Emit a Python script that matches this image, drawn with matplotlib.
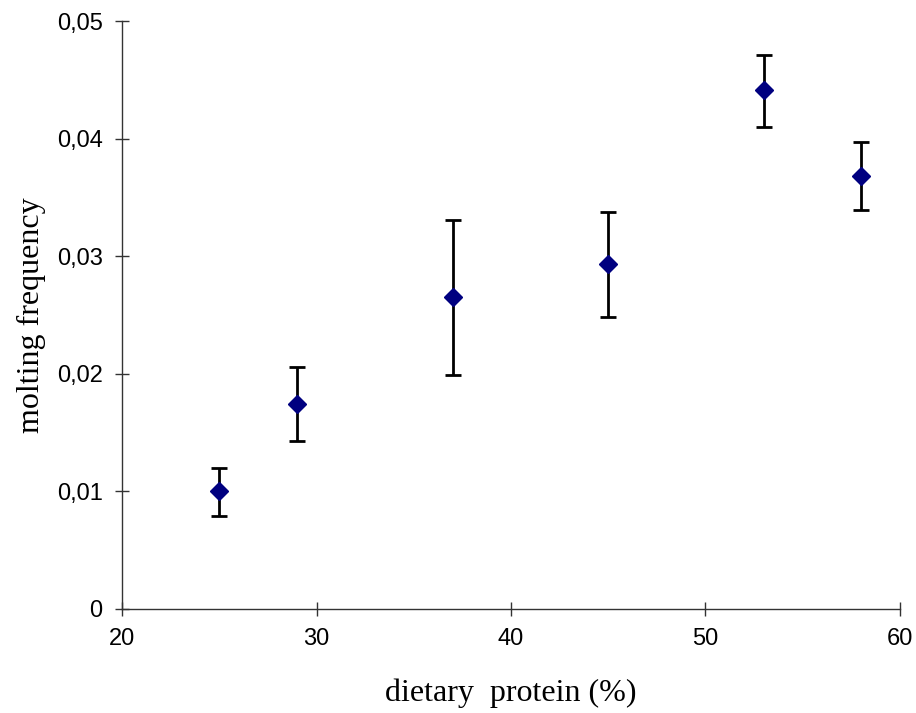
import matplotlib.pyplot as plt
import matplotlib.ticker as mticker
import numpy as np

# data
protein = [25, 29, 37, 45, 53, 58]
molting = [0.0100, 0.0174, 0.0265, 0.0293, 0.0441, 0.0368]
err_low = [0.0021, 0.0031, 0.0066, 0.0045, 0.0031, 0.0029]
err_high = [0.0020, 0.0032, 0.0066, 0.0045, 0.0030, 0.0029]

fig = plt.figure(figsize=(9.16, 7.13), dpi=100)
ax = fig.add_axes([0.1332, 0.1459, 0.8493, 0.8246])

ax.errorbar(protein, molting, yerr=[err_low, err_high], fmt='D', color='#000080',
            markersize=9, ecolor='black', elinewidth=2, capsize=6, capthick=2)

ax.set_xlim(20, 60)
ax.set_ylim(0, 0.05)
ax.set_xticks([20, 30, 40, 50, 60])
ax.set_yticks([0, 0.01, 0.02, 0.03, 0.04, 0.05])
ax.yaxis.set_major_formatter(mticker.FuncFormatter(
    lambda v, p: '0' if v == 0 else f'{v:.2f}'.replace('.', ',')))

for s in ['top', 'right']:
    ax.spines[s].set_visible(False)
for s in ['left', 'bottom']:
    ax.spines[s].set_color('#333333')
    ax.spines[s].set_linewidth(1)

ax.tick_params(direction='inout', length=10, width=1, color='#333333',
               labelsize=17, pad=9)
for lab in ax.get_xticklabels() + ax.get_yticklabels():
    lab.set_fontfamily('Liberation Sans')

ax.set_xlabel('dietary  protein (%)', fontsize=23, family='Liberation Serif', labelpad=20)
ax.set_ylabel('molting frequency', fontsize=23, family='Liberation Serif', labelpad=8)

fig.savefig('out.png', dpi=100)
